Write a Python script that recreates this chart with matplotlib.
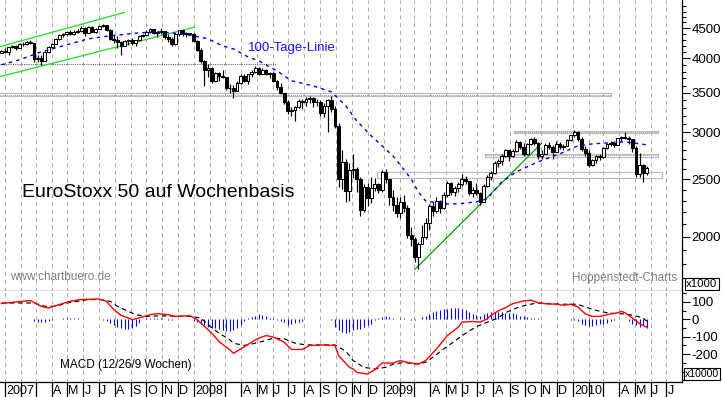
import numpy as np
import pandas as pd
import matplotlib
matplotlib.use('Agg')
import matplotlib.pyplot as plt
import matplotlib.dates as mdates
from matplotlib.ticker import FixedLocator, NullFormatter, FuncFormatter

plt.rcParams['font.family'] = ['Liberation Sans', 'DejaVu Sans']

# Wochenkerzen EuroStoxx 50, Freitage 22.12.2006 - 28.05.2010
first_open = 4060
close = [4090, 4120,
         4105, 4175, 4195, 4170,  4225, 4230, 4270, 4240,  3990, 4010, 3960, 4100, 4180,
         4230, 4310, 4380, 4395,  4430, 4400, 4440, 4450,  4510, 4420, 4520, 4440, 4490,
         4540, 4560, 4470, 4320,  4290, 4260, 4200, 4280, 4295,  4240, 4290, 4360, 4380,
         4440, 4480, 4410, 4440,  4450, 4340, 4320, 4230, 4390,  4460, 4390, 4410, 4400,
         4280, 4140, 3960, 3830,  3860, 3670, 3780, 3730, 3720,  3570, 3560, 3530, 3640,
         3740, 3670, 3760, 3800,  3860, 3770, 3830, 3760, 3780,  3670, 3580, 3490, 3380,
         3260, 3270, 3310, 3390,  3370, 3410, 3430, 3380, 3370,  3240, 3320, 3400, 3280,
         3080, 2500, 2670, 2390, 2590,  2600, 2500, 2220, 2430,  2320, 2420, 2450, 2400,
         2570, 2500, 2330, 2260, 2190,  2290, 2240, 2010, 1980,  1850, 1940, 2000, 2110,
         2250, 2210, 2300, 2240,  2350, 2460, 2380, 2420, 2450,  2500, 2480, 2370, 2400,
         2370, 2290, 2440, 2520, 2560,  2660, 2680, 2740, 2800,  2740, 2790, 2890, 2830,
         2760, 2870, 2920, 2880, 2740,  2760, 2860, 2830, 2780,  2870, 2830, 2850, 2910,
         2965, 3010, 2920, 2810, 2770,  2640, 2690, 2740, 2730,  2820, 2870, 2880, 2860,
         2930, 2950, 2940, 2920, 2820,  2550, 2640, 2560, 2610]
high = [4110, 4135,
        4160, 4185, 4215, 4220,  4240, 4260, 4285, 4290,  4250, 4050, 4060, 4120, 4190,
        4240, 4330, 4400, 4420,  4440, 4460, 4460, 4480,  4540, 4520, 4540, 4530, 4500,
        4545, 4575, 4560, 4480,  4380, 4370, 4280, 4300, 4310,  4330, 4300, 4380, 4400,
        4460, 4500, 4490, 4450,  4500, 4450, 4390, 4340, 4400,  4470, 4470, 4430, 4420,
        4410, 4300, 4170, 3970,  3920, 3870, 3800, 3800, 3830,  3720, 3620, 3610, 3670,
        3760, 3760, 3770, 3830,  3880, 3870, 3850, 3840, 3800,  3800, 3680, 3640, 3500,
        3400, 3310, 3330, 3420,  3420, 3440, 3450, 3440, 3420,  3400, 3360, 3420, 3460,
        3320, 3110, 2800, 2700, 2660,  2760, 2620, 2520, 2450,  2460, 2520, 2510, 2460,
        2590, 2600, 2500, 2400, 2330,  2330, 2350, 2260, 2080,  2000, 1960, 2090, 2150,
        2270, 2290, 2330, 2310,  2380, 2480, 2470, 2440, 2470,  2550, 2530, 2480, 2430,
        2460, 2380, 2450, 2540, 2580,  2680, 2710, 2760, 2810,  2800, 2810, 2910, 2900,
        2880, 2880, 2940, 2950, 2890,  2800, 2880, 2890, 2860,  2900, 2890, 2870, 2920,
        2970, 3030, 3020, 2950, 2840,  2800, 2710, 2750, 2760,  2830, 2880, 2900, 2900,
        2940, 2960, 3010, 2960, 2920,  2850, 2770, 2650, 2630]
low = [4040, 4080,
       4080, 4060, 4160, 4140,  4160, 4190, 4220, 4230,  3950, 3940, 3905, 3960, 4080,
       4170, 4230, 4300, 4350,  4370, 4380, 4380, 4410,  4440, 4370, 4420, 4430, 4420,
       4480, 4520, 4450, 4300,  4240, 4170, 4060, 4190, 4220,  4220, 4190, 4280, 4340,
       4370, 4420, 4390, 4350,  4390, 4310, 4260, 4190, 4220,  4370, 4370, 4340, 4380,
       4270, 4110, 3930, 3590,  3720, 3640, 3650, 3660, 3700,  3540, 3490, 3430, 3520,
       3620, 3650, 3620, 3720,  3780, 3750, 3760, 3750, 3700,  3650, 3540, 3480, 3350,
       3220, 3200, 3130, 3300,  3290, 3320, 3360, 3310, 3330,  3200, 3190, 3010, 3250,
       3050, 2430, 2410, 2290, 2300,  2510, 2380, 2170, 2200,  2250, 2280, 2390, 2370,
       2380, 2460, 2260, 2210, 2160,  2150, 2200, 1990, 1930,  1810, 1765, 1940, 1980,
       2050, 2170, 2190, 2190,  2230, 2330, 2350, 2340, 2380,  2440, 2450, 2350, 2330,
       2350, 2260, 2290, 2430, 2490,  2550, 2620, 2640, 2730,  2680, 2730, 2780, 2810,
       2740, 2750, 2860, 2860, 2700,  2700, 2760, 2810, 2700,  2780, 2810, 2800, 2850,
       2900, 2950, 2900, 2790, 2740,  2620, 2630, 2660, 2690,  2720, 2810, 2850, 2830,
       2860, 2900, 2920, 2870, 2780,  2520, 2520, 2470, 2540]

# 100-Tage-Linie (Wochenindex, Wert)
ma_idx = [1, 6, 12, 19, 25, 31, 39, 44, 48, 54, 58, 62, 65, 69, 72, 77, 81, 87, 92, 96,
          99, 103, 109, 114, 116, 118, 123, 127, 132, 135, 139, 143, 149, 155, 160, 164, 173, 179]
ma_val = [3902, 3978, 4104, 4217, 4317, 4367, 4418, 4436, 4418, 4367, 4317, 4200, 4151, 4024,
          3962, 3811, 3666, 3595, 3512, 3326, 3138, 2960, 2738, 2504, 2380, 2298, 2272, 2272,
          2290, 2317, 2475, 2573, 2675, 2760, 2847, 2869, 2892, 2858]

# MACD (12/26/9) und Signal
macd_idx = [1, 4, 9, 12, 14, 17, 20, 23, 28, 30, 32, 34, 36, 37, 39, 42, 44, 47, 49, 53,
            55, 57, 59, 61, 64, 65, 67, 70, 72, 74, 76, 79, 81, 84, 86, 90, 93, 94, 97, 98,
            99, 102, 104, 106, 109, 111, 113, 116, 118, 121, 124, 127, 128, 131, 133, 135, 136, 138, 140, 142,
            145, 147, 149, 151, 154, 156, 158, 160, 162, 164, 166, 168, 171, 172, 173, 175, 177, 179]
macd_val = [91, 98, 108, 75, 65, 85, 104, 114, 117, 104, 56, 23, 8, -2, 8, 27, 33, 27, 17, 21,
            -2, -40, -79, -127, -175, -195, -170, -131, -108, -93, -102, -131, -173, -173, -150, -147, -150, -208, -276, -285,
            -305, -314, -289, -251, -251, -237, -247, -257, -237, -170, -93, -45, -16, -12, -16, 3, 23, 48, 67, 90,
            106, 110, 96, 90, 87, 81, 87, 71, 32, 17, 17, 27, 38, 46, 38, 8, -25, -45]
signal_idx = [1, 6, 10, 13, 16, 19, 25, 28, 31, 33, 36, 38, 41, 44, 47, 50, 53, 56, 58, 61,
              64, 65, 68, 71, 74, 76, 79, 82, 85, 90, 93, 96, 98, 101, 104, 107, 109, 112, 115, 118,
              120, 123, 126, 129, 132, 135, 138, 140, 143, 146, 149, 152, 156, 160, 162, 165, 168, 171, 173, 176,
              178, 179]
signal_val = [94, 94, 94, 75, 75, 94, 114, 114, 104, 75, 46, 27, 17, 20, 20, 17, 17, 8, -31, -79,
              -117, -137, -150, -137, -121, -108, -112, -137, -147, -147, -147, -183, -237, -276, -285, -276, -258, -247, -257, -247,
              -218, -170, -125, -80, -42, -16, 8, 38, 65, 84, 94, 90, 87, 87, 71, 52, 38, 32, 32, 19,
              8, -12]
hist = [2, 2, 2, 2, 1, 0, 2, 3, 2, 2,
        -8, -15, -18, -17, -12, -5,
        2, 4, 6, 7, 7, 6, 5, 4, 3, 2, 1,
        0, 0, -2,
        -12, -22, -33, -43, -50, -54, -54, -48, -38, -20,
        3, 5, 7, 8, 7, 5, 3, -3, -5, 2, 2, 1, 0, 0,
        -8, -15, -25, -35, -42, -48, -52, -57, -60,
        -65, -66, -62, -50, -30, -12,
        5, 15, 22, 28, 25, 18, 10, 5,
        -5, -8, -15, -30, -25, -20, -15, -8,
        2, 0, 3, 0, 0, 3, 0, -5,
        -44, -64, -70, -77, -70, -64, -54, -54, -44, -35, -25, -6,
        8, 13, 17, 12, 8, 4, 8, 6,
        0, -4, -6, 0,
        13, 20, 30, 40, 48, 54, 58, 62,
        65, 65, 65, 62, 52, 42, 33, 23, 17,
        33, 38, 42, 42, 42, 40, 38, 38, 36, 30, 22, 18, 14, 10, 8, 5,
        0, 0, 2, 0, 4, 4, 0,
        0, -2, -6, -12, -25, -35, -39, -39, -35, -29, -25, -19, -12, -6,
        3, 3, 0,
        -12, -25, -35, -44, -35, -50]

# Trendlinien und Unterstuetzungs-/Widerstandszonen
green_start = ['2006-12-22', '2006-12-22']
green_end = ['2007-08-20', '2008-01-02']
green_from = [4186, 3726]
green_to = [4784, 4517]
trend09_dates = ['2009-03-02', '2009-11-02']
trend09_vals = [1760, 2876]
level_line = 3917
level_line_end = '2008-06-07'
zone_start = ['2006-12-01', '2009-09-09', '2009-07-15', '2008-12-19']
zone_end = ['2010-03-16', '2010-06-14', '2010-06-14', '2010-06-22']
zone_lo = [3450, 2994, 2728, 2514]
zone_hi = [3500, 3017, 2760, 2573]

W, H = 723, 397
fig = plt.figure(figsize=(W / 100, H / 100), dpi=100)


def rect(x0, y0, x1, y1):
    return [x0 / W, 1 - y1 / H, (x1 - x0) / W, (y1 - y0) / H]


def ftext(x, y, s, **kw):
    fig.text(x / W, 1 - y / H, s, **kw)


ax = fig.add_axes(rect(0, 0, 682, 291))
axm = fig.add_axes(rect(0, 291, 682, 382), sharex=ax)
axs = fig.add_axes(rect(0, 382, 682, 397), sharex=ax)

weeks = pd.date_range('2006-12-22', periods=len(close), freq='W-FRI')
xd = mdates.date2num(weeks - pd.Timedelta(days=4))
px_per_day = 0.518
x_left = mdates.date2num(pd.Timestamp('2007-01-01')) - 5 / px_per_day
x_right = x_left + 682 / px_per_day
months = pd.date_range('2007-01-01', '2010-08-01', freq='MS')

c = np.array(close, float)
o = np.array([first_open] + close[:-1], float)
hi = np.array(high, float)
lo = np.array(low, float)
up = c >= o
bot = np.minimum(o, c)
hgt = np.maximum(np.abs(c - o), c * 0.003)

# Hauptchart
ax.set_yscale('log')
for m in months:
    ax.axvline(mdates.date2num(m), color='#a8a8a8', lw=0.7, ls=(0, (4, 4)), zorder=0)
    axm.axvline(mdates.date2num(m), color='#a8a8a8', lw=0.7, ls=(0, (4, 4)), zorder=0)

for s, e, a, b in zip(zone_start, zone_end, zone_lo, zone_hi):
    xs = mdates.date2num(pd.Timestamp(s))
    xe = mdates.date2num(pd.Timestamp(e))
    ax.plot([xs, xe, xe, xs, xs], [a, a, b, b, a], color='#bdbdbd', lw=0.9, zorder=1)
    if b / a < 1.02:
        ax.plot([xs, xe], [np.sqrt(a * b)] * 2, color='#9a9a9a', lw=0.7, ls=(0, (1, 1)), zorder=1)
ax.plot([x_left - 10, mdates.date2num(pd.Timestamp(level_line_end))], [level_line] * 2,
        color='#6a6a6a', lw=0.8, ls=(0, (1, 1)), zorder=1)

for s, e, a, b in zip(green_start, green_end, green_from, green_to):
    ax.plot(mdates.date2num([pd.Timestamp(s), pd.Timestamp(e)]), [a, b], color='#33dd33', lw=1.0, zorder=2)
ax.plot(mdates.date2num(pd.to_datetime(trend09_dates)), trend09_vals, color='#00a000', lw=0.9, zorder=2)

ax.plot(xd[ma_idx], ma_val, color='#0000e0', lw=1.0, ls=(0, (2.5, 3)), zorder=4)

ax.vlines(xd, lo, hi, color='black', lw=0.85, zorder=3)
ax.bar(xd[up], hgt[up], bottom=bot[up], width=5.4, color='white', edgecolor='black', lw=0.75, zorder=3)
ax.bar(xd[~up], hgt[~up], bottom=bot[~up], width=5.4, color='black', edgecolor='black', lw=0.75, zorder=3)

ax.set_xlim(x_left, x_right)
ax.set_ylim(1619, 5020)
ax.yaxis.tick_right()
ax.yaxis.set_major_locator(FixedLocator([2000, 2500, 3000, 3500, 4000, 4500]))
ax.yaxis.set_major_formatter(FuncFormatter(lambda v, p: f'{v:.0f}'))
ax.yaxis.set_minor_locator(FixedLocator([v for v in range(1700, 5001, 100) if v % 500]))
ax.yaxis.set_minor_formatter(NullFormatter())

# MACD
axm.vlines(xd, 0, hist, color='#0000ff', lw=0.8, zorder=2)
axm.plot(xd[signal_idx], signal_val, color='black', lw=0.85, ls=(0, (4, 3)), zorder=3)
axm.plot(xd[macd_idx], macd_val, color='#ff0000', lw=1.0, zorder=4)
axm.set_ylim(-360, 163)
axm.yaxis.tick_right()
axm.yaxis.set_major_locator(FixedLocator([100, 0, -100, -200, -300]))
axm.yaxis.set_major_formatter(FuncFormatter(lambda v, p: '' if v < -250 else f'{v:.0f}'))
axm.yaxis.set_minor_locator(FixedLocator([150, 50, -50, -150, -250, -350]))
axm.yaxis.set_minor_formatter(NullFormatter())

for a in (ax, axm):
    a.spines['left'].set_visible(False)
    a.spines['top'].set_visible(False)
    a.spines['right'].set_linewidth(0.9)
    a.spines['bottom'].set_linewidth(0.9)
    a.tick_params(axis='x', bottom=False, labelbottom=False)
    a.tick_params(axis='y', which='major', length=5.5, width=0.8, labelsize=9.5, pad=1.5, direction='out')
    a.tick_params(axis='y', which='minor', length=3, width=0.8, direction='out')

# Zeitachse
axs.set_ylim(0, 1)
axs.axis('off')
axs.vlines(mdates.date2num(months), 0, 1, color='black', lw=0.9)
letters = 'JFMAMJJASOND'
for m in months[:-1]:
    if m.month == 1:
        lab = str(m.year)
    elif m.month in (2, 3):
        continue
    else:
        lab = letters[m.month - 1]
    axs.text(mdates.date2num(m) + 2.5, 0.42, lab, fontsize=9, va='center', ha='left')

# Beschriftungen
ftext(22, 192, 'EuroStoxx 50 auf Wochenbasis', fontsize=14, va='center')
ftext(248, 48, '100-Tage-Linie', fontsize=9.5, color='#1414ff', va='center')
ftext(10, 277, 'www.chartbuero.de', fontsize=8.5, color='#808080', va='center')
ftext(677, 278, 'Hoppenstedt-Charts', fontsize=8.5, color='#808080', va='center', ha='right')
ftext(60, 365, 'MACD (12/26/9 Wochen)', fontsize=8.5, va='center')
ftext(686, 284, 'x1000', fontsize=8.2, va='center',
      bbox=dict(boxstyle='square,pad=0.12', fc='white', ec='black', lw=0.8))
ftext(685, 374, 'x10000', fontsize=7.6, va='center',
      bbox=dict(boxstyle='square,pad=0.12', fc='white', ec='black', lw=0.8))

fig.savefig('out.png', dpi=100)
